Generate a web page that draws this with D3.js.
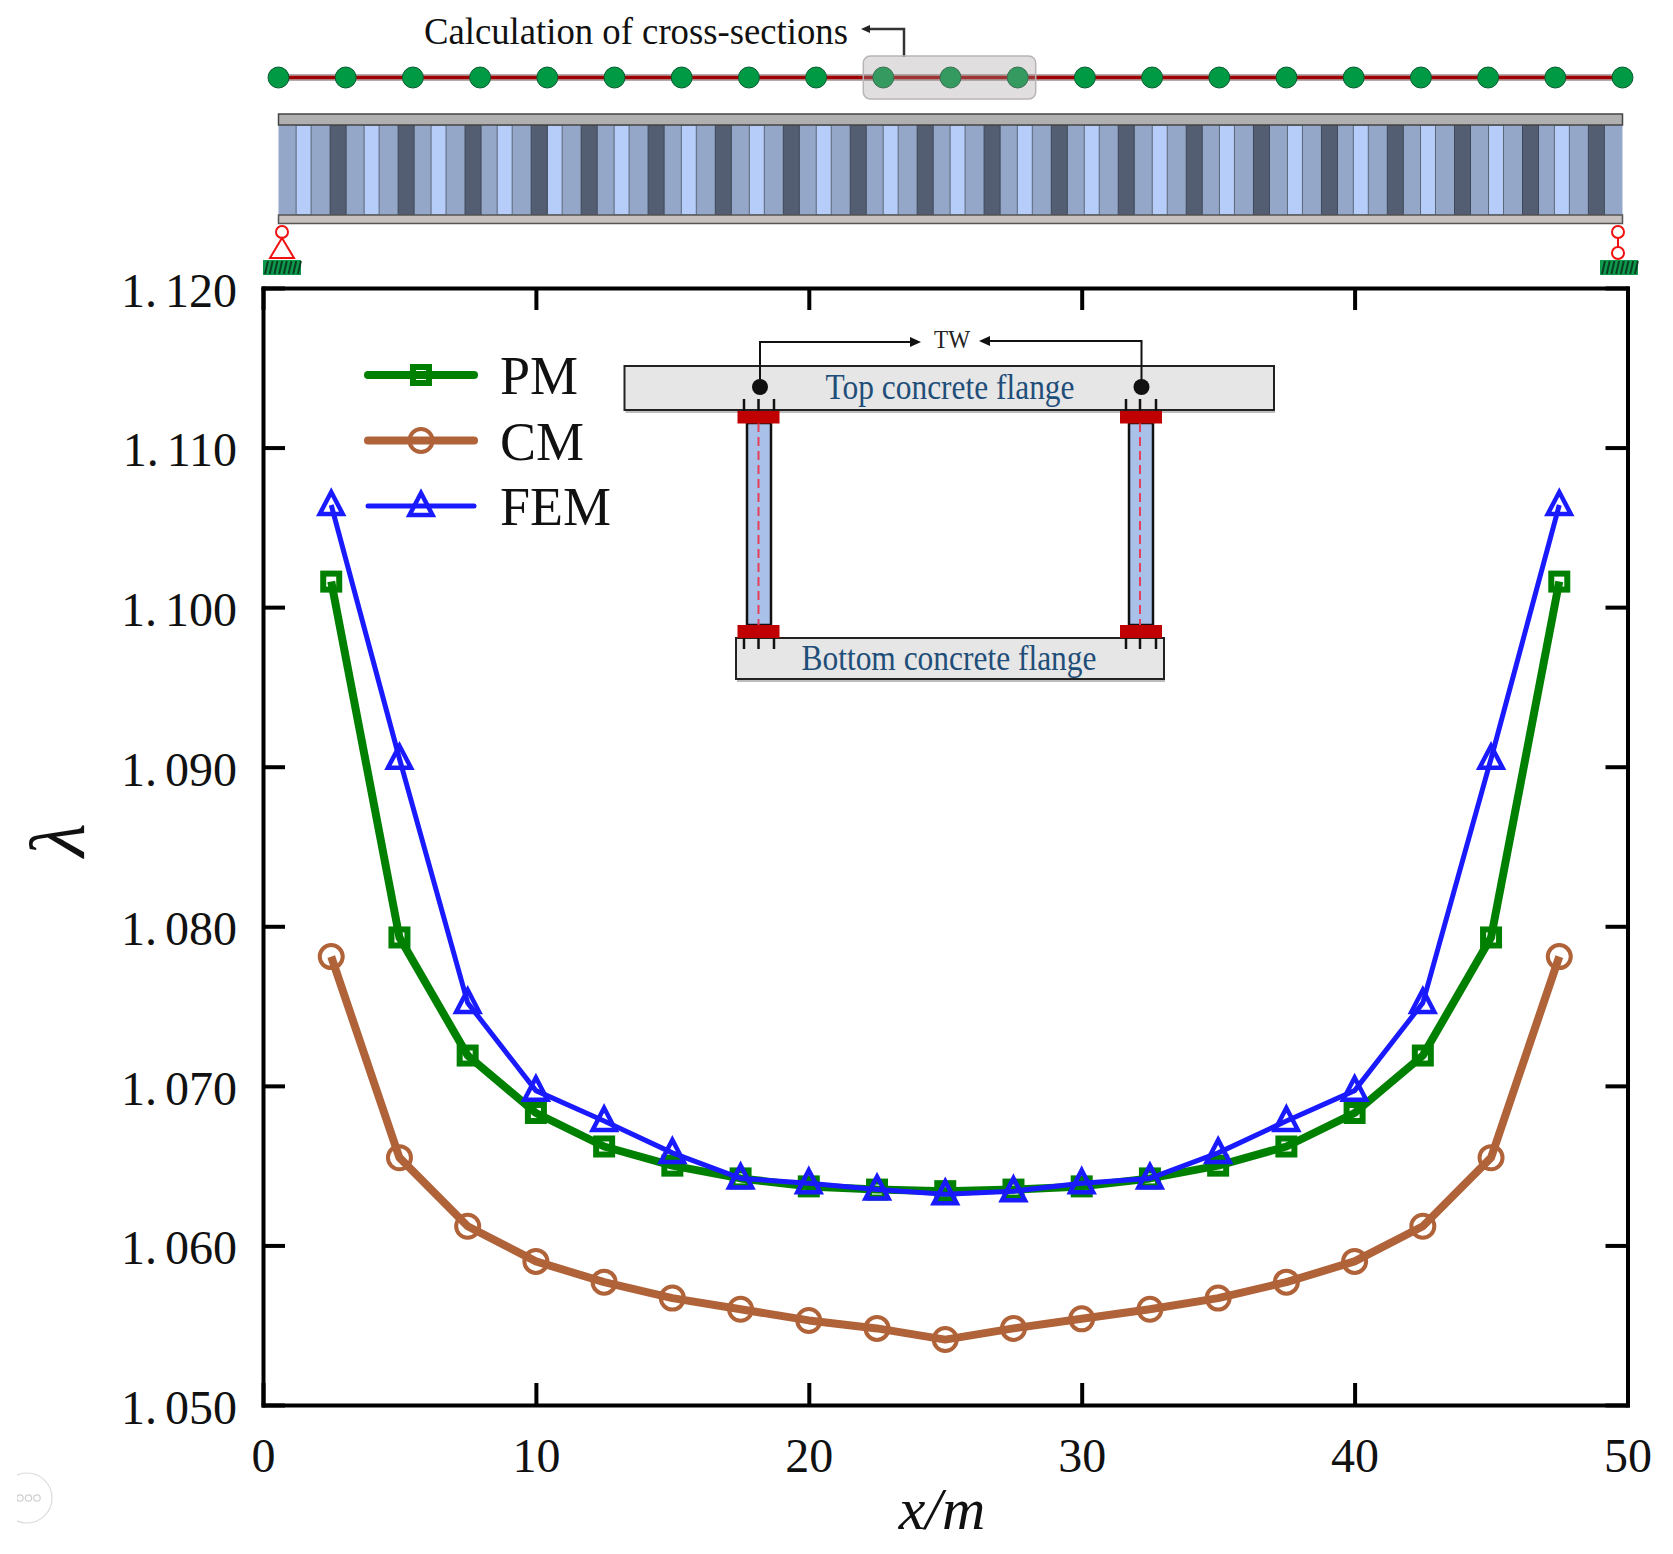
<!DOCTYPE html>
<html>
<head>
<meta charset="utf-8">
<script src="https://cdn.jsdelivr.net/npm/d3@7"></script>
<style>
  html, body { margin: 0; padding: 0; background: #fff; }
  svg { display: block; }
  text { font-family: "Liberation Serif", serif; }
</style>
</head>
<body>
<div id="chart"></div>
<script>
const xPositions = [2.5, 5, 7.5, 10, 12.5, 15, 17.5, 20, 22.5, 25, 27.5, 30, 32.5, 35, 37.5, 40, 42.5, 45, 47.5]
const pmValues = [1.1016, 1.0793, 1.0719, 1.0683, 1.0662, 1.0650, 1.0642, 1.0637, 1.0635, 1.0634, 1.0635, 1.0637, 1.0642, 1.0650, 1.0662, 1.0683, 1.0719, 1.0793, 1.1016]
const cmValues = [1.0781, 1.0655, 1.0612, 1.0590, 1.0577, 1.0567, 1.0560, 1.0553, 1.0548, 1.0541, 1.0548, 1.0554, 1.0560, 1.0567, 1.0577, 1.0590, 1.0612, 1.0655, 1.0781]
const femValues = [1.1064, 1.0905, 1.0752, 1.0697, 1.0678, 1.0658, 1.0642, 1.0639, 1.0635, 1.0632, 1.0634, 1.0639, 1.0642, 1.0658, 1.0678, 1.0697, 1.0752, 1.0905, 1.1064]

const xTicks = [0, 10, 20, 30, 40, 50]
const yTicks = [1.05, 1.06, 1.07, 1.08, 1.09, 1.10, 1.11, 1.12]

const seriesNames = ["PM", "CM", "FEM"]
const seriesColors = ["#008000", "#b06238", "#1a1aff"]
const seriesWidths = [8, 8, 5]
const seriesValues = [pmValues, cmValues, femValues]

// beam sketch, positions along the girder in metres
const sectionPositions = [0, 2.5, 5, 7.5, 10, 12.5, 15, 17.5, 20, 22.5, 25, 27.5, 30, 32.5, 35, 37.5, 40, 42.5, 45, 47.5, 50]
const highlightedSections = [22.5, 25, 27.5]
const darkStrips = [1.92, 4.45, 6.94, 9.40, 11.26, 13.75, 16.25, 18.78, 21.27, 23.76, 26.25, 28.75, 31.24, 33.77, 36.27, 38.80, 41.25, 43.75, 46.28, 48.73]

const width = 1673
const height = 1554
const margin = { top: 288, right: 45.5, bottom: 149, left: 263 }

const svg = d3.select("#chart").append("svg")
  .attr("width", width)
  .attr("height", height)

const x = d3.scaleLinear().domain([0, 50]).range([margin.left, width - margin.right])
const y = d3.scaleLinear().domain([1.05, 1.12]).range([height - margin.bottom, margin.top])
const beamX = d3.scaleLinear().domain([0, 50]).range([278.5, 1622.5])

drawBeam()
drawAxes()
drawSeries()
drawLegend()
drawCrossSection()
drawBadge()

function drawAxes() {
  const tickLen = 22
  const yLabel = d => d3.format(".3f")(d).replace(".", ". ")

  const axes = [
    { axis: d3.axisBottom(x).tickValues(xTicks).tickFormat(d3.format("d")), at: [0, y.range()[0]], pad: 33 },
    { axis: d3.axisTop(x).tickValues(xTicks).tickFormat(""), at: [0, y.range()[1]], pad: 28 },
    { axis: d3.axisLeft(y).tickValues(yTicks).tickFormat(yLabel), at: [x.range()[0], 0], pad: 26, dy: 3 },
    { axis: d3.axisRight(y).tickValues(yTicks).tickFormat(""), at: [x.range()[1], 0], pad: 28 }
  ]

  axes.forEach(a => {
    const g = svg.append("g")
      .attr("transform", `translate(${a.at[0]},${a.at[1]})`)
      .call(a.axis.tickSizeInner(-tickLen).tickSizeOuter(0).tickPadding(a.pad))
    g.select(".domain").attr("stroke", "#000").attr("stroke-width", 4).attr("stroke-linecap", "square")
    g.selectAll(".tick line").attr("stroke", "#000").attr("stroke-width", 4)
    g.selectAll("text")
      .style("font-family", '"Liberation Serif", serif')
      .style("font-size", "48px")
      .style("word-spacing", "-4px")
      .attr("fill", "#111")
      .attr("transform", a.dy ? `translate(0,${a.dy})` : null)
  })

  svg.append("text")
    .attr("x", 942).attr("y", 1529)
    .attr("text-anchor", "middle")
    .style("font-size", "60px")
    .style("font-style", "italic")
    .attr("fill", "#111")
    .text("x/m")

  svg.append("text")
    .attr("transform", "translate(84,840) rotate(-90)")
    .attr("text-anchor", "middle")
    .style("font-size", "78px")
    .style("font-style", "italic")
    .attr("fill", "#111")
    .text("λ")
}

function drawMarker(g, name, color) {
  if (name === "PM") {
    g.append("rect").attr("x", -8).attr("y", -8).attr("width", 16).attr("height", 16)
      .attr("fill", "none").attr("stroke", color).attr("stroke-width", 6)
  } else if (name === "CM") {
    g.append("circle").attr("r", 11.5)
      .attr("fill", "none").attr("stroke", color).attr("stroke-width", 4)
  } else {
    g.append("path").attr("d", "M0,-13 L11.5,9 L-11.5,9 Z")
      .attr("fill", "none").attr("stroke", color).attr("stroke-width", 4.5)
  }
}

function drawSeries() {
  const line = d3.line().x(d => x(d.x)).y(d => y(d.y))

  seriesNames.forEach((name, i) => {
    const points = xPositions.map((p, j) => ({ x: p, y: seriesValues[i][j] }))
    const g = svg.append("g").attr("class", `series-${name}`)

    g.append("path")
      .datum(points)
      .attr("d", line)
      .attr("fill", "none")
      .attr("stroke", seriesColors[i])
      .attr("stroke-width", seriesWidths[i])
      .attr("stroke-linejoin", "round")

    g.selectAll(".marker")
      .data(points)
      .enter()
      .append("g")
      .attr("class", "marker")
      .attr("transform", d => `translate(${x(d.x)},${y(d.y)})`)
      .each(function () { drawMarker(d3.select(this), name, seriesColors[i]) })
  })
}

function drawLegend() {
  const rowY = d3.scalePoint().domain(seriesNames).range([375, 506])

  seriesNames.forEach((name, i) => {
    const g = svg.append("g").attr("transform", `translate(421,${rowY(name)})`)
    g.append("line")
      .attr("x1", -53).attr("x2", 53)
      .attr("stroke", seriesColors[i])
      .attr("stroke-width", seriesWidths[i])
      .attr("stroke-linecap", "round")
    drawMarker(g, name, seriesColors[i])
    svg.append("text")
      .attr("x", 500)
      .attr("y", rowY(name) + 19)
      .style("font-size", "54px")
      .attr("fill", "#111")
      .text(name)
  })
}

function drawBeam() {
  const nodeY = 77.5
  const web = { top: 125, bottom: 215 }
  const stripW = 16
  const g = svg.append("g").attr("class", "beam")

  // annotation above the highlighted sections
  g.append("text")
    .attr("x", 424).attr("y", 44)
    .attr("textLength", 424)
    .attr("lengthAdjust", "spacingAndGlyphs")
    .style("font-size", "38px")
    .attr("fill", "#111")
    .text("Calculation of cross-sections")
  g.append("path")
    .attr("d", "M904,57 V29 H866")
    .attr("fill", "none").attr("stroke", "#333").attr("stroke-width", 2.5)
  g.append("path").attr("d", "M861,29 L870,25 L870,33 Z").attr("fill", "#222")

  // section line and nodes
  g.append("line")
    .attr("x1", beamX(0)).attr("x2", beamX(50))
    .attr("y1", nodeY).attr("y2", nodeY)
    .attr("stroke", "#b5aaaa").attr("stroke-width", 7)
  g.append("line")
    .attr("x1", beamX(0)).attr("x2", beamX(50))
    .attr("y1", nodeY).attr("y2", nodeY)
    .attr("stroke", "#a00000").attr("stroke-width", 3.5)
  g.selectAll(".node")
    .data(sectionPositions)
    .enter()
    .append("circle")
    .attr("class", "node")
    .attr("cx", d => beamX(d))
    .attr("cy", nodeY)
    .attr("r", 10.5)
    .attr("fill", "#009a44")
    .attr("stroke", "#0b5a32")
    .attr("stroke-width", 1)

  const hi = d3.extent(highlightedSections)
  g.append("rect")
    .attr("x", beamX(hi[0]) - 20).attr("y", 56)
    .attr("width", beamX(hi[1]) - beamX(hi[0]) + 38).attr("height", 43)
    .attr("rx", 7)
    .attr("fill", "#a09a9a").attr("fill-opacity", 0.33)
    .attr("stroke", "#b9b5b5").attr("stroke-width", 1.5)

  // girder: flanges and strips
  g.append("rect")
    .attr("x", beamX(0)).attr("y", web.top)
    .attr("width", beamX(50) - beamX(0)).attr("height", web.bottom - web.top)
    .attr("fill", "#94a7c8")

  g.selectAll(".strip-light")
    .data(darkStrips)
    .enter()
    .append("rect")
    .attr("class", "strip-light")
    .attr("x", d => beamX(d) - 34)
    .attr("y", web.top)
    .attr("width", stripW - 1)
    .attr("height", web.bottom - web.top)
    .attr("fill", "#b5cdf8")
    .attr("stroke", "#5b6678")
    .attr("stroke-width", 1)

  g.selectAll(".strip-dark")
    .data(darkStrips)
    .enter()
    .append("rect")
    .attr("class", "strip-dark")
    .attr("x", d => beamX(d))
    .attr("y", web.top)
    .attr("width", stripW)
    .attr("height", web.bottom - web.top)
    .attr("fill", "#535e72")
    .attr("stroke", "#3f4858")
    .attr("stroke-width", 1)

  g.append("rect")
    .attr("x", beamX(0)).attr("y", 114)
    .attr("width", beamX(50) - beamX(0)).attr("height", 11)
    .attr("fill", "#b0b0b0").attr("stroke", "#444").attr("stroke-width", 1.5)
  g.append("rect")
    .attr("x", beamX(0)).attr("y", 215)
    .attr("width", beamX(50) - beamX(0)).attr("height", 8.5)
    .attr("fill", "#c6c1bf").attr("stroke", "#555").attr("stroke-width", 1.5)

  // supports
  const red = "#f01010"
  g.append("circle").attr("cx", 282).attr("cy", 232).attr("r", 6)
    .attr("fill", "#fff").attr("stroke", red).attr("stroke-width", 2)
  g.append("path").attr("d", "M282,238 L294,258 L270,258 Z")
    .attr("fill", "#fff").attr("stroke", red).attr("stroke-width", 2)
  g.append("line").attr("x1", 1618).attr("x2", 1618).attr("y1", 238).attr("y2", 247)
    .attr("stroke", red).attr("stroke-width", 2)
  g.selectAll(".roller").data([232, 253]).enter().append("circle")
    .attr("class", "roller")
    .attr("cx", 1618).attr("cy", d => d).attr("r", 6)
    .attr("fill", "#fff").attr("stroke", red).attr("stroke-width", 2)

  ;[263, 1600].forEach(left => {
    g.append("rect").attr("x", left).attr("y", 260).attr("width", 38).attr("height", 15)
      .attr("fill", "#0d9a4c")
    d3.range(8).forEach(i => {
      g.append("line")
        .attr("x1", left + 5 + i * 4.7).attr("x2", left + 2 + i * 4.7)
        .attr("y1", 261).attr("y2", 274)
        .attr("stroke", "#0a3d22").attr("stroke-width", 2)
    })
  })
}

function drawCrossSection() {
  const g = svg.append("g").attr("class", "cross-section")
  const blue = "#1f4e79"
  const webs = [{ left: 747, right: 771, mid: 758.5, studs: [744, 758.5, 774], plate: 737.5, dot: 760 },
                { left: 1129, right: 1153, mid: 1140, studs: [1126, 1140, 1156], plate: 1120, dot: 1141.5 }]

  const flange = (fx, fy, fw, fh) => {
    g.append("rect").attr("x", fx + 1).attr("y", fy + 3).attr("width", fw).attr("height", fh)
      .attr("fill", "#bdbdbd")
    g.append("rect").attr("x", fx).attr("y", fy).attr("width", fw).attr("height", fh)
      .attr("fill", "#e6e6e6").attr("stroke", "#222").attr("stroke-width", 2)
  }
  flange(624.5, 366, 649.5, 44)
  flange(736, 638, 428, 41)

  g.append("text").attr("x", 950).attr("y", 399)
    .attr("text-anchor", "middle").attr("textLength", 249)
    .attr("lengthAdjust", "spacingAndGlyphs")
    .style("font-size", "35px").attr("fill", blue)
    .text("Top concrete flange")
  g.append("text").attr("x", 949).attr("y", 670)
    .attr("text-anchor", "middle").attr("textLength", 295)
    .attr("lengthAdjust", "spacingAndGlyphs")
    .style("font-size", "35px").attr("fill", blue)
    .text("Bottom concrete flange")

  webs.forEach(w => {
    g.append("rect").attr("x", w.left).attr("y", 423).attr("width", w.right - w.left).attr("height", 202)
      .attr("fill", "#a9c0e8").attr("stroke", "#111").attr("stroke-width", 2.5)
    g.append("line").attr("x1", w.mid).attr("x2", w.mid).attr("y1", 423).attr("y2", 625)
      .attr("stroke", "#e2405c").attr("stroke-width", 2).attr("stroke-dasharray", "9,5")
    g.append("rect").attr("x", w.plate).attr("y", 411).attr("width", 42).attr("height", 12.5).attr("fill", "#c00000")
    g.append("rect").attr("x", w.plate).attr("y", 625).attr("width", 42).attr("height", 13).attr("fill", "#c00000")
    w.studs.forEach(s => {
      g.append("line").attr("x1", s).attr("x2", s).attr("y1", 399).attr("y2", 411)
        .attr("stroke", "#111").attr("stroke-width", 2.5)
      g.append("line").attr("x1", s).attr("x2", s).attr("y1", 638).attr("y2", 649)
        .attr("stroke", "#111").attr("stroke-width", 2.5)
    })
    g.append("circle").attr("cx", w.dot).attr("cy", 387).attr("r", 8).attr("fill", "#111")
  })

  g.append("path").attr("d", "M760,387 V342 H914").attr("fill", "none").attr("stroke", "#111").attr("stroke-width", 2)
  g.append("path").attr("d", "M921,342 L910,337 L910,347 Z").attr("fill", "#111")
  g.append("path").attr("d", "M1141.5,387 V341 H986").attr("fill", "none").attr("stroke", "#111").attr("stroke-width", 2)
  g.append("path").attr("d", "M979,341 L990,336 L990,346 Z").attr("fill", "#111")

  g.append("text").attr("x", 952).attr("y", 348)
    .attr("text-anchor", "middle")
    .attr("textLength", 36)
    .attr("lengthAdjust", "spacingAndGlyphs")
    .style("font-size", "25px").attr("fill", "#222")
    .text("TW")
}

// faint round badge in the lower left corner of the scan
function drawBadge() {
  svg.append("clipPath").attr("id", "badge-clip")
    .append("rect").attr("x", 17).attr("y", 1460).attr("width", 60).attr("height", 80)
  const g = svg.append("g").attr("clip-path", "url(#badge-clip)")
  g.append("circle").attr("cx", 27).attr("cy", 1498).attr("r", 25)
    .attr("fill", "none").attr("stroke", "#dcdcdc").attr("stroke-width", 1.2)
  ;[20, 28.5, 37].forEach(cx => {
    g.append("circle").attr("cx", cx).attr("cy", 1498).attr("r", 3.2)
      .attr("fill", "none").attr("stroke", "#cfcfcf").attr("stroke-width", 1.2)
  })
}
</script>
</body>
</html>
